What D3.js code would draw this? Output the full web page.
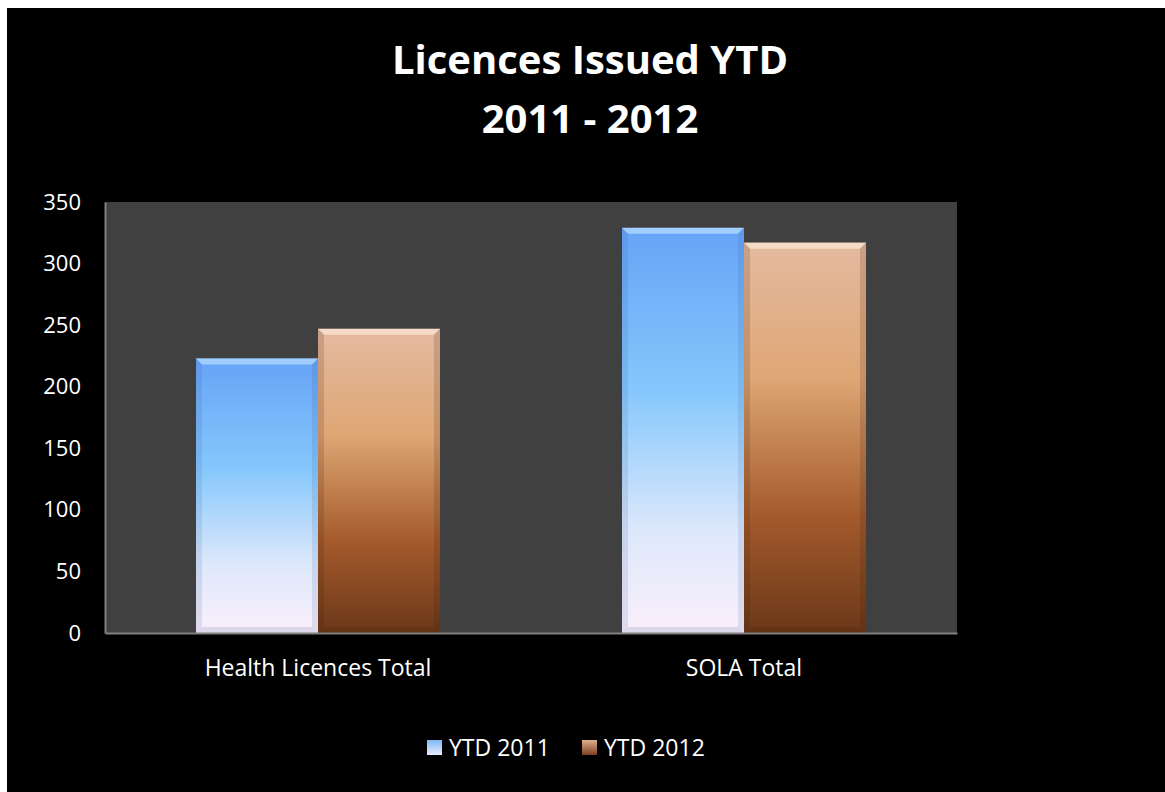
<!DOCTYPE html>
<html>
<head>
<meta charset="utf-8">
<script src="https://cdn.jsdelivr.net/npm/d3@7"></script>
<style>
  body { margin: 0; background: #fff; }
  svg { display: block; }
</style>
</head>
<body>
<svg class="chart"></svg>
<script>
var categories = ["Health Licences Total", "SOLA Total"];
var seriesNames = ["YTD 2011", "YTD 2012"];
var ytd2011 = [223, 329];
var ytd2012 = [247, 317];
var yTicks = [0, 50, 100, 150, 200, 250, 300, 350];

var width = 1165;
var height = 792;
var font = "'Open Sans', sans-serif";
var svg = d3.select(".chart").attr("width", width).attr("height", height);

// black panel (white strip top and left)
svg.append("rect").attr("x", 7).attr("y", 8).attr("width", width).attr("height", height).attr("fill", "#000");

var plot = {left: 105, right: 957, top: 202, bottom: 633};

var defs = svg.append("defs");
var blue = defs.append("linearGradient").attr("id", "g2011").attr("x1", 0).attr("y1", 0).attr("x2", 0).attr("y2", 1);
blue.append("stop").attr("offset", "0%").attr("stop-color", "#66a3f6");
blue.append("stop").attr("offset", "40%").attr("stop-color", "#85c7fc");
blue.append("stop").attr("offset", "75%").attr("stop-color", "#dde8fb");
blue.append("stop").attr("offset", "100%").attr("stop-color", "#fbeffb");
var brown = defs.append("linearGradient").attr("id", "g2012").attr("x1", 0).attr("y1", 0).attr("x2", 0).attr("y2", 1);
brown.append("stop").attr("offset", "0%").attr("stop-color", "#e4baa0");
brown.append("stop").attr("offset", "35%").attr("stop-color", "#dea674");
brown.append("stop").attr("offset", "70%").attr("stop-color", "#a45a2c");
brown.append("stop").attr("offset", "100%").attr("stop-color", "#6b3819");
var legB = defs.append("linearGradient").attr("id", "l2011").attr("x1", 0).attr("y1", 0).attr("x2", 0).attr("y2", 1);
legB.append("stop").attr("offset", "0%").attr("stop-color", "#7fb8f8");
legB.append("stop").attr("offset", "100%").attr("stop-color", "#e8ecfb");
var legO = defs.append("linearGradient").attr("id", "l2012").attr("x1", 0).attr("y1", 0).attr("x2", 0).attr("y2", 1);
legO.append("stop").attr("offset", "0%").attr("stop-color", "#e0b08a");
legO.append("stop").attr("offset", "100%").attr("stop-color", "#7a4020");

svg.append("rect")
  .attr("x", plot.left).attr("y", plot.top)
  .attr("width", plot.right - plot.left).attr("height", plot.bottom - plot.top)
  .attr("fill", "#404040");

var x0 = d3.scaleBand().domain(categories).range([plot.left, plot.right]).paddingInner(0).paddingOuter(0);
var x1 = d3.scaleBand().domain(seriesNames).range([0, x0.bandwidth()]).paddingInner(0).paddingOuter(0.746);
var y = d3.scaleLinear().domain([0, 350]).range([plot.bottom, plot.top]);

var rows = categories.map(function(c, i) {
  return [{s: "YTD 2011", v: ytd2011[i], g: "g2011", hi: "#b5dcff", lo: "rgba(40,70,140,0.35)"},
          {s: "YTD 2012", v: ytd2012[i], g: "g2012", hi: "#fbe6d6", lo: "rgba(60,25,5,0.45)"}];
});

var groups = svg.selectAll(".grp").data(rows).enter().append("g")
  .attr("transform", function(d, i) { return "translate(" + x0(categories[i]) + ",0)"; });

var bars = groups.selectAll(".bar").data(function(d) { return d; }).enter().append("g");
var bev = 6;
bars.append("rect")
  .attr("x", function(d) { return x1(d.s); })
  .attr("y", function(d) { return y(d.v); })
  .attr("width", x1.bandwidth())
  .attr("height", function(d) { return y(0) - y(d.v); })
  .attr("fill", function(d) { return "url(#" + d.g + ")"; });
// top bevel
bars.append("path")
  .attr("d", function(d) {
    var a = x1(d.s), b = a + x1.bandwidth(), t = y(d.v);
    return "M" + a + "," + t + "L" + b + "," + t + "L" + (b - bev) + "," + (t + bev) + "L" + (a + bev) + "," + (t + bev) + "Z";
  })
  .attr("fill", function(d) { return d.hi; }).attr("opacity", 0.75);
// side and bottom shading
bars.append("path")
  .attr("d", function(d) {
    var a = x1(d.s), b = a + x1.bandwidth(), t = y(d.v), z = y(0);
    return "M" + a + "," + t + "L" + (a + bev) + "," + (t + bev) + "L" + (a + bev) + "," + (z - bev) + "L" + a + "," + z + "Z" +
           "M" + b + "," + t + "L" + (b - bev) + "," + (t + bev) + "L" + (b - bev) + "," + (z - bev) + "L" + b + "," + z + "Z";
  })
  .attr("fill", function(d) { return d.lo; }).attr("opacity", 0.35);
bars.append("path")
  .attr("d", function(d) {
    var a = x1(d.s), b = a + x1.bandwidth(), z = y(0);
    return "M" + a + "," + z + "L" + (a + bev) + "," + (z - bev) + "L" + (b - bev) + "," + (z - bev) + "L" + b + "," + z + "Z";
  })
  .attr("fill", function(d) { return d.lo; }).attr("opacity", 0.4);

// axes
var yAxis = d3.axisLeft(y).tickValues(yTicks).tickSize(0).tickPadding(24);
var gy = svg.append("g").attr("transform", "translate(" + plot.left + ",0)").call(yAxis);
gy.select(".domain").attr("stroke", "#808080").attr("stroke-width", 2);
gy.selectAll("text").attr("fill", "#fff").attr("font-family", font).attr("font-size", 22);

var xAxis = d3.axisBottom(x0).tickSize(0).tickPadding(27);
var gx = svg.append("g").attr("transform", "translate(0," + plot.bottom + ")").call(xAxis);
gx.select(".domain").attr("stroke", "#808080").attr("stroke-width", 2);
gx.selectAll("text").attr("fill", "#fff").attr("font-family", font).attr("font-size", 23);

// title
svg.append("text").attr("x", 590).attr("y", 74).attr("text-anchor", "middle")
  .attr("fill", "#fff").attr("font-family", font).attr("font-weight", "bold").attr("font-size", 40)
  .text("Licences Issued YTD");
svg.append("text").attr("x", 590).attr("y", 133).attr("text-anchor", "middle")
  .attr("fill", "#fff").attr("font-family", font).attr("font-weight", "bold").attr("font-size", 40)
  .text("2011 - 2012");

// legend
var legX = [427, 582];
var leg = svg.selectAll(".leg").data(seriesNames).enter().append("g")
  .attr("transform", function(d, i) { return "translate(" + legX[i] + ",740)"; });
leg.append("rect").attr("width", 15).attr("height", 15)
  .attr("fill", function(d, i) { return i == 0 ? "url(#l2011)" : "url(#l2012)"; });
leg.append("text").attr("x", 22).attr("y", 16)
  .attr("fill", "#fff").attr("font-family", font).attr("font-size", 23)
  .text(function(d) { return d; });
</script>
</body>
</html>
